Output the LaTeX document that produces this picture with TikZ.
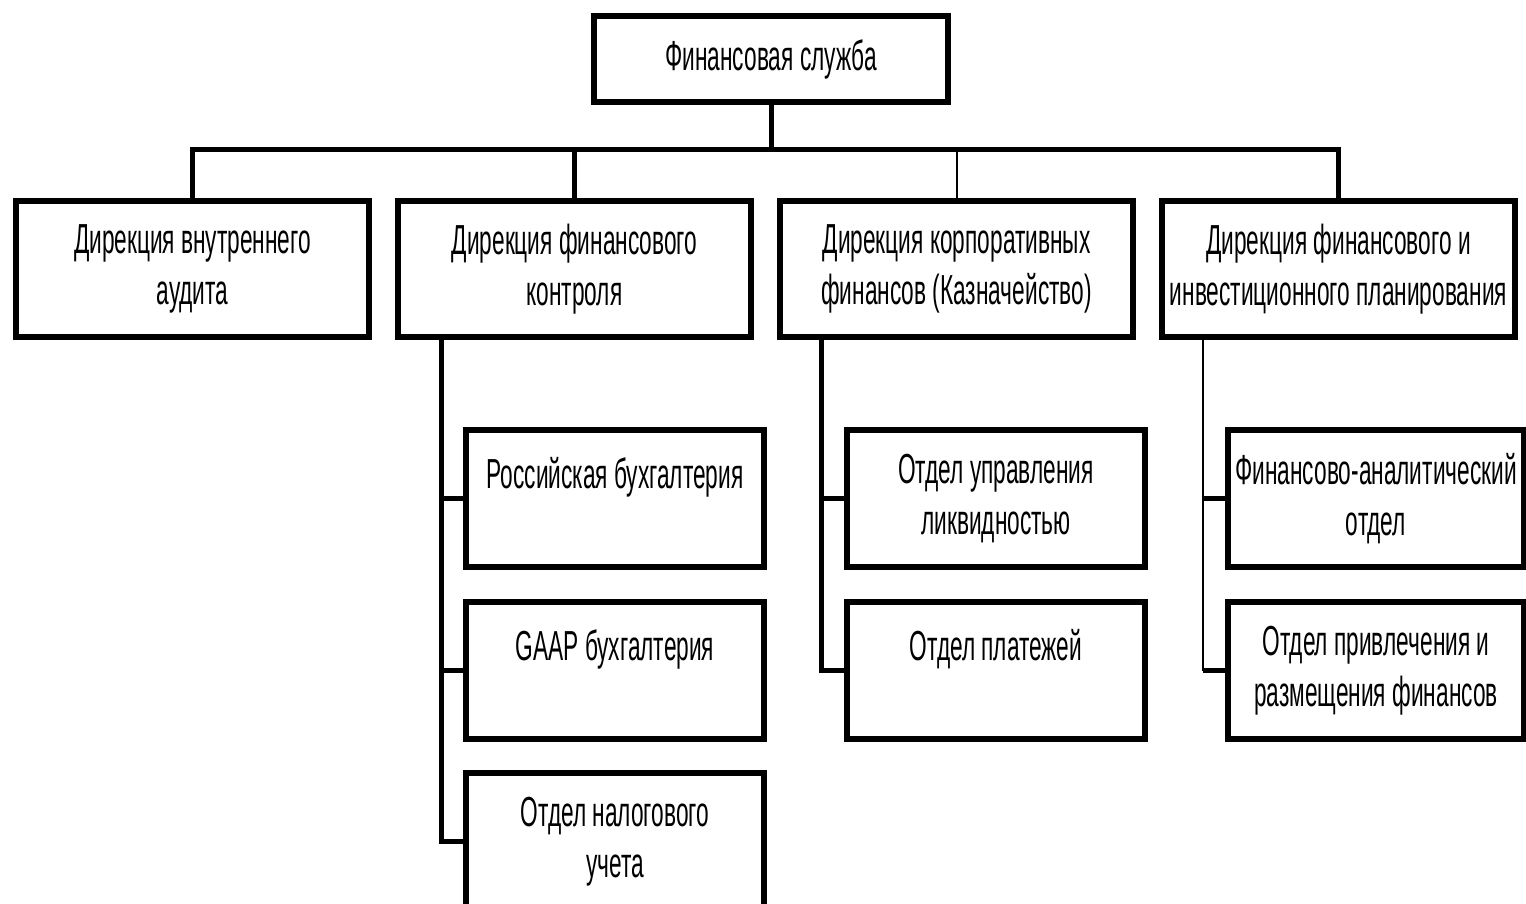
\documentclass[tikz,border=0pt]{standalone}
\usepackage{fontspec}
\setmainfont[FakeStretch=0.54]{Liberation Sans}
\begin{document}
\begin{tikzpicture}[x=1pt,y=-1pt,
  box/.style={draw, line width=6pt, align=center, inner sep=0pt, outer sep=0pt,
    font=\fontsize{42}{51}\selectfont},
  dir/.style={box, minimum width=353pt, minimum height=135pt},
  sub/.style={box, minimum width=298pt, minimum height=137pt},
  conn/.style={line width=5pt},
  thinconn/.style={line width=2pt}]
\useasboundingbox (0,0) rectangle (1526,904);
\node[box, minimum width=354pt, minimum height=86pt] (top) at (771,59) {Финансовая служба};
\node[dir] (d1) at (192.5,269) {Дирекция внутреннего\\аудита};
\node[dir, yshift=-2.5pt] (d2) at (574.5,266.5) {Дирекция финансового\\контроля};
\node[dir, yshift=-2.5pt] (d3) at (956.5,266.5) {Дирекция корпоративных\\финансов (Казначейство)};
\node[dir, yshift=-2.5pt] (d4) at (1338.5,266.5) {Дирекция финансового и\\инвестиционного планирования};
\node[sub] (c21) at (615,498.5) {Российская бухгалтерия\\\mbox{}};
\node[sub] (c22) at (615,670.5) {GAAP бухгалтерия\\\mbox{}};
\node[sub] (c23) at (615,841.5) {Отдел налогового\\учета};
\node[sub] (c31) at (996,498.5) {Отдел управления\\ликвидностью};
\node[sub] (c32) at (996,670.5) {Отдел платежей\\\mbox{}};
\node[sub, minimum width=296pt] (c41) at (1376,498.5) {Финансово-аналитический\\отдел};
\node[sub, minimum width=296pt] (c42) at (1376,670.5) {Отдел привлечения и\\размещения финансов};
\coordinate (bus) at (0,150);
\coordinate (t2) at (441,0);
\coordinate (t3) at (821,0);
\coordinate (t4) at (1203,0);
% top level
\draw[conn] (top.south) -- (top.south |- bus);
\draw[conn] (d1.north) |- (bus -| d4.north) -- (d4.north);
\draw[conn] (d2.north) -- (d2.north |- bus);
\draw[thinconn] (d3.north) -- (d3.north |- bus);
% dir 2 children
\draw[conn] (d2.south -| t2) |- (c23.west);
\draw[conn] (t2 |- c21.west) -- (c21.west);
\draw[conn] (t2 |- c22.west) -- (c22.west);
% dir 3 children
\draw[conn] (d3.south -| t3) |- (c32.west);
\draw[conn] (t3 |- c31.west) -- (c31.west);
% dir 4 children
\draw[thinconn] (d4.south -| t4) -- (t4 |- c42.west);
\draw[conn] (t4 |- c41.west) -- (c41.west);
\draw[conn] (t4 |- c42.west) -- (c42.west);
\end{tikzpicture}
\end{document}
